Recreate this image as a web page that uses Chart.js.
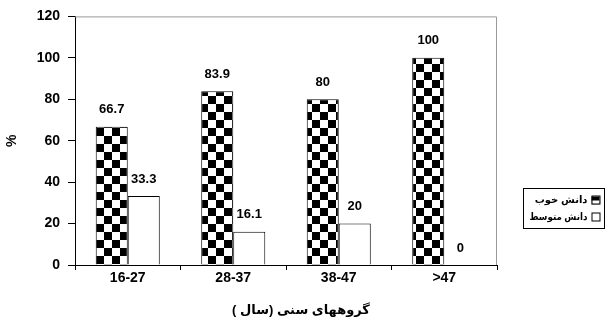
<!DOCTYPE html>
<html>
<head>
<meta charset="utf-8">
<script src="https://cdn.jsdelivr.net/npm/chart.js@4/dist/chart.umd.min.js"></script>
<style>
  html, body { margin: 0; padding: 0; background: #fff; }
  #wrap { width: 605px; height: 327px; }
</style>
</head>
<body>
<div id="wrap"><canvas id="chart" width="605" height="327"></canvas></div>
<script>
// Data
const ageGroups = ['16-27', '28-37', '38-47', '>47'];
const goodKnowledge = [66.7, 83.9, 80, 100];
const mediumKnowledge = [33.3, 16.1, 20, 0];
const seriesLabels = ['دانش خوب', 'دانش متوسط'];
const yTicks = [0, 20, 40, 60, 80, 100, 120];
const xTitle = 'گروههای سنی (سال )\u200F';
const yTitle = '%';

const FONT = "Arial, 'Liberation Sans', 'DejaVu Sans', sans-serif";

// checkerboard fill
function makeChecker(size) {
  const c = document.createElement('canvas');
  c.width = size * 2;
  c.height = size * 2;
  const g = c.getContext('2d');
  g.fillStyle = '#fff';
  g.fillRect(0, 0, c.width, c.height);
  g.fillStyle = '#000';
  g.fillRect(0, 0, size, size);
  g.fillRect(size, size, size, size);
  return g.createPattern(c, 'repeat');
}
const checker = makeChecker(8);

// value labels above bars
const valueLabels = {
  id: 'valueLabels',
  afterDatasetsDraw(chart) {
    const ctx = chart.ctx;
    ctx.save();
    ctx.font = 'bold 13px ' + FONT;
    ctx.fillStyle = '#000';
    ctx.textAlign = 'center';
    ctx.textBaseline = 'middle';
    chart.data.datasets.forEach((ds, i) => {
      chart.getDatasetMeta(i).data.forEach((bar, j) => {
        ctx.fillText(String(ds.data[j]), bar.x, bar.y - 17);
      });
    });
    ctx.restore();
  }
};

// grey frame on top/right of plot area + x title (slightly right of centre, as in the original)
const plotFrame = {
  id: 'plotFrame',
  beforeDatasetsDraw(chart) {
    const { ctx, chartArea: a } = chart;
    ctx.save();
    ctx.strokeStyle = '#999';
    ctx.lineWidth = 1;
    ctx.beginPath();
    ctx.moveTo(a.left, a.top + 0.5);
    ctx.lineTo(a.right - 0.5, a.top + 0.5);
    ctx.lineTo(a.right - 0.5, a.bottom);
    ctx.stroke();
    ctx.font = 'bold 13px ' + FONT;
    ctx.fillStyle = '#000';
    ctx.textAlign = 'center';
    ctx.textBaseline = 'middle';
    ctx.fillText(xTitle, (a.left + a.right) / 2 + 15, 310, 148);
    ctx.restore();
  }
};

// boxed legend on the right, RTL
const boxLegend = {
  id: 'boxLegend',
  afterDraw(chart) {
    const { ctx, chartArea: a } = chart;
    const left = a.right + 26.5, top = 188.5, w = 81, h = 40;
    ctx.save();
    ctx.strokeStyle = '#000';
    ctx.lineWidth = 1;
    ctx.strokeRect(left, top, w, h);
    ctx.font = 'bold 10px ' + FONT;
    ctx.textAlign = 'right';
    ctx.textBaseline = 'middle';
    chart.data.datasets.forEach((ds, i) => {
      const y = top + 12 + i * 17;
      const bx = left + w - 13;
      ctx.fillStyle = i === 0 ? '#000' : '#fff';
      ctx.fillRect(bx, y - 4, 8, 8);
      if (i === 0) {
        ctx.fillStyle = '#fff';
        ctx.fillRect(bx, y, 8, 4);
      }
      ctx.strokeRect(bx + 0.5, y - 4.5, 8, 8);
      ctx.fillStyle = '#000';
      ctx.fillText(ds.label, bx - 4, y, 58);
    });
    ctx.restore();
  }
};

new Chart(document.getElementById('chart'), {
  type: 'bar',
  data: {
    labels: ageGroups,
    datasets: [
      {
        label: seriesLabels[0],
        data: goodKnowledge,
        backgroundColor: checker,
        borderColor: '#000',
        borderWidth: 1,
        borderSkipped: 'bottom',
      },
      {
        label: seriesLabels[1],
        data: mediumKnowledge,
        backgroundColor: '#fff',
        borderColor: '#000',
        borderWidth: 1,
        borderSkipped: 'bottom',
      },
    ],
  },
  plugins: [plotFrame, valueLabels, boxLegend],
  options: {
    responsive: false,
    animation: false,
    categoryPercentage: 0.607,
    barPercentage: 1,
    layout: { padding: { top: 16, right: 108, left: 0, bottom: 0 } },
    plugins: {
      legend: { display: false },
      tooltip: { enabled: false },
    },
    scales: {
      x: {
        grid: { display: true, drawOnChartArea: false, tickLength: 5, color: '#000', offset: true },
        border: { color: '#000', width: 1 },
        ticks: { color: '#000', font: { family: FONT, size: 14, weight: 'bold' }, padding: 0, maxRotation: 0 },
        title: { display: false },
        afterFit(scale) { scale.height = 62; },
      },
      y: {
        min: 0,
        max: 120,
        afterBuildTicks(scale) { scale.ticks = yTicks.map(v => ({ value: v })); },
        grid: { display: true, drawOnChartArea: false, tickLength: 7, color: '#000' },
        border: { color: '#000', width: 1 },
        ticks: { color: '#000', font: { family: FONT, size: 14, weight: 'bold' }, padding: 8 },
        title: {
          display: true,
          text: yTitle,
          color: '#000',
          font: { family: FONT, size: 14, weight: 'bold' },
          padding: { top: 4, bottom: 4 },
        },
        afterFit(scale) { scale.width = 75; },
      },
    },
  },
});
</script>
</body>
</html>
